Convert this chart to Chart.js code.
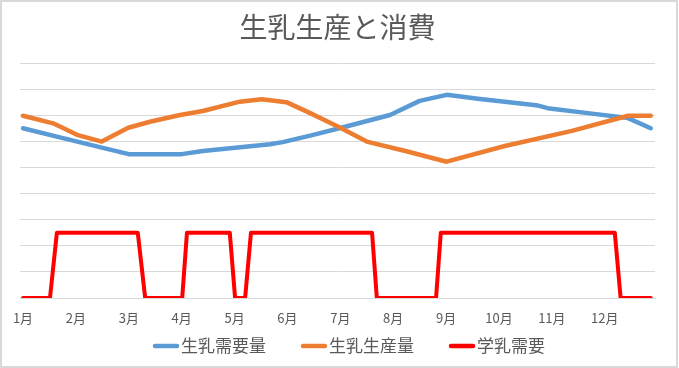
<!DOCTYPE html>
<html><head><meta charset="utf-8">
<script src="https://cdn.jsdelivr.net/npm/chart.js@4.4.1/dist/chart.umd.min.js"></script>
<style>html,body{margin:0;padding:0;background:#fff}#wrap{width:679px;height:368px;position:relative}</style>
</head><body><div id="wrap"><canvas id="c" width="679" height="368"></canvas></div>
<script>
const monthLabels = ['1月','2月','3月','4月','5月','6月','7月','8月','9月','10月','11月','12月'];
const seriesNames = ['生乳需要量','生乳生産量','学乳需要'];

// x positions in months from Jan 1 (0 = 1月)
const demandX = [0, 0.64, 1.51, 2.0, 3.0, 3.4, 4.67, 4.91, 5.43, 6.0, 6.94, 7.5, 8.01, 8.64, 9.11, 9.74, 9.92, 10.68, 11.44, 11.87];
const demandY = [6.50, 6.18, 5.75, 5.51, 5.51, 5.63, 5.89, 5.97, 6.22, 6.51, 7.01, 7.55, 7.78, 7.62, 7.52, 7.37, 7.27, 7.08, 6.89, 6.50];

const productionX = [0, 0.57, 1.02, 1.49, 1.99, 2.40, 2.97, 3.40, 4.10, 4.51, 4.98, 5.43, 5.99, 6.50, 7.25, 8.01, 9.11, 10.38, 11.44, 11.87];
const productionY = [6.98, 6.69, 6.25, 5.99, 6.52, 6.75, 7.01, 7.16, 7.52, 7.61, 7.50, 7.08, 6.53, 5.99, 5.62, 5.22, 5.82, 6.40, 6.98, 6.98];

const schoolX = [0, 0.51, 0.64, 2.17, 2.31, 3.01, 3.10, 3.91, 4.01, 4.20, 4.31, 6.60, 6.69, 7.81, 7.90, 11.19, 11.30, 11.87];
const schoolY = [0, 0, 2.5, 2.5, 0, 0, 2.5, 2.5, 0, 0, 2.5, 2.5, 0, 0, 2.5, 2.5, 0, 0];

const seriesColors = ['#5B9BD5', '#ED7D31', '#FF0000'];
const FONT = '"Noto Sans CJK JP", "Noto Sans", sans-serif';

const toPts = (xs, ys) => xs.map((x, i) => ({x: x, y: ys[i]}));

const framePlugin = {
  id: 'frame',
  beforeDraw(chart) {
    const ctx = chart.ctx;
    ctx.save();
    ctx.fillStyle = '#fff';
    ctx.fillRect(0, 0, chart.width, chart.height);
    ctx.restore();
  },
  afterDraw(chart) {
    const ctx = chart.ctx;
    ctx.save();
    ctx.strokeStyle = '#d9d9d9';
    ctx.lineWidth = 2;
    ctx.strokeRect(1, 1, 676, 366);
    ctx.restore();
  }
};

const legendPlugin = {
  id: 'customLegend',
  afterDraw(chart) {
    const ctx = chart.ctx;
    ctx.save();
    ctx.font = '17px ' + FONT;
    ctx.textBaseline = 'middle';
    ctx.textAlign = 'left';
    let x = 153;
    const y = 346;
    chart.data.datasets.forEach(ds => {
      ctx.strokeStyle = ds.borderColor;
      ctx.lineWidth = 4.5;
      ctx.lineCap = 'round';
      ctx.beginPath();
      ctx.moveTo(x + 2, y);
      ctx.lineTo(x + 24, y);
      ctx.stroke();
      ctx.fillStyle = '#595959';
      ctx.fillText(ds.label, x + 28, y);
      x += 28 + ctx.measureText(ds.label).width + 35;
    });
    ctx.restore();
  }
};

new Chart(document.getElementById('c'), {
  type: 'line',
  data: {
    datasets: [
      {label: seriesNames[0], data: toPts(demandX, demandY), borderColor: seriesColors[0], borderWidth: 4.5, order: 2},
      {label: seriesNames[1], data: toPts(productionX, productionY), borderColor: seriesColors[1], borderWidth: 4.5, order: 1},
      {label: seriesNames[2], data: toPts(schoolX, schoolY), borderColor: seriesColors[2], borderWidth: 4, order: 0}
    ].map(d => Object.assign(d, {pointRadius: 0, tension: 0, fill: false, borderCapStyle: 'round', borderJoinStyle: 'round', backgroundColor: d.borderColor}))
  },
  options: {
    responsive: false,
    animation: false,
    layout: {padding: {left: 20, right: 24, top: 0, bottom: 30.4}},
    plugins: {
      legend: {display: false},
      tooltip: {enabled: false},
      title: {
        display: true,
        text: '生乳生産と消費',
        color: '#595959',
        font: {size: 28, family: FONT, weight: 'normal'},
        padding: {top: 10.7, bottom: 18.7}
      }
    },
    scales: {
      x: {
        type: 'linear',
        min: -0.057,
        max: 11.95,
        afterBuildTicks: axis => { axis.ticks = monthLabels.map((_, i) => ({value: i})); },
        ticks: {
          callback: v => monthLabels[v],
          color: '#595959',
          font: {size: 13, family: FONT},
          padding: 12,
          maxRotation: 0,
          autoSkip: false
        },
        grid: {display: false, drawTicks: false},
        border: {display: true, color: '#d9d9d9', width: 1}
      },
      y: {
        min: 0,
        max: 9,
        ticks: {display: false, stepSize: 1},
        grid: {color: '#d9d9d9', drawTicks: false, lineWidth: 1},
        border: {display: false}
      }
    }
  },
  plugins: [framePlugin, legendPlugin]
});
</script>
</body></html>
